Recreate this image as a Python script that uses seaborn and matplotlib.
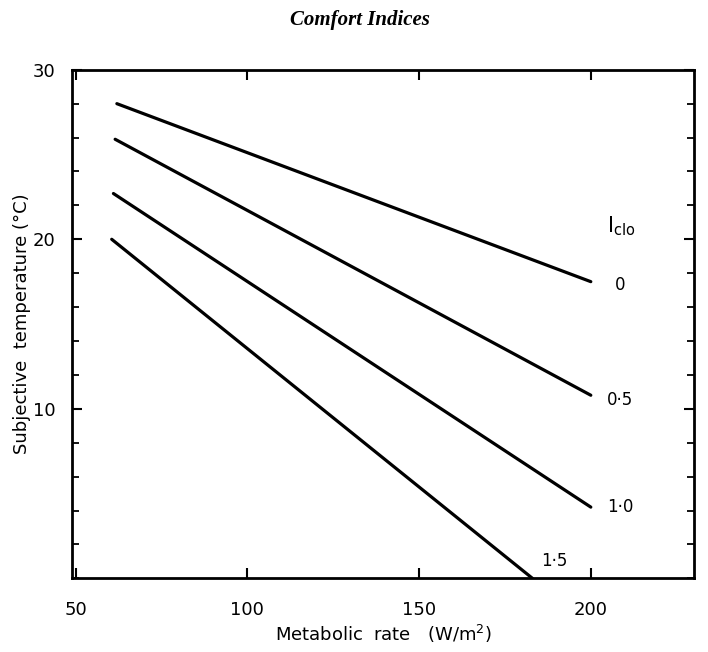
import matplotlib.pyplot as plt
import numpy as np
import seaborn as sns
import pandas as pd
from matplotlib.ticker import MultipleLocator

sns.set_style("ticks")
plt.rcParams["font.family"] = ["DejaVu Sans"]
plt.rcParams["text.color"] = "black"
plt.rcParams["axes.labelcolor"] = "black"
plt.rcParams["xtick.color"] = "black"
plt.rcParams["ytick.color"] = "black"

# Clothing insulation levels and end points of each line
iclo_levels = ["0", "0·5", "1·0", "1·5"]
x_start = [62.0, 61.5, 61.0, 60.5]
x_end = [200.0, 200.0, 200.0, 183.0]
y_start = [28.0, 25.9, 22.7, 20.0]
y_end = [17.5, 10.8, 4.2, 0.0]

rows = []
for lvl, x0, x1, y0, y1 in zip(iclo_levels, x_start, x_end, y_start, y_end):
    rows.append({"Iclo": lvl, "rate": x0, "temp": y0})
    rows.append({"Iclo": lvl, "rate": x1, "temp": y1})
df = pd.DataFrame(rows)

fig = plt.figure(figsize=(7.08, 6.52), dpi=100)
ax = fig.add_axes([0.102, 0.113, 0.878, 0.78])

sns.lineplot(
    data=df,
    x="rate",
    y="temp",
    hue="Iclo",
    palette=["black"] * 4,
    linewidth=2.3,
    legend=False,
    ax=ax,
)

# line labels placed at the right-hand ends
label_pos = {"0": (208.5, 17.3), "0·5": (208.5, 10.5), "1·0": (208.5, 4.2), "1·5": (189.5, 1.0)}
for lvl in iclo_levels:
    lx, ly = label_pos[lvl]
    ax.text(lx, ly, lvl, ha="center", va="center", fontsize=12, color="black")
ax.text(209, 20.75, r"$\mathrm{I}_{\mathsf{clo}}$", ha="center", va="center", fontsize=15,
        family="serif", color="black")

ax.set_xlim(49, 230)
ax.set_ylim(0, 30)
ax.set_xticks([50, 100, 150, 200])
ax.set_yticks([10, 20, 30])
ax.yaxis.set_minor_locator(MultipleLocator(2))
ax.tick_params(axis="both", which="major", direction="in", length=7, width=1.5,
               top=True, right=True, labelsize=13)
ax.tick_params(axis="x", which="major", pad=16)
ax.tick_params(axis="y", which="major", pad=12)
ax.tick_params(axis="y", which="minor", direction="in", length=5, width=1.3,
               right=True)
for s in ax.spines.values():
    s.set_linewidth(2)
    s.set_color("black")

ax.set_xlabel("Metabolic  rate   (W/m$^2$)", fontsize=13, labelpad=3)
ax.set_ylabel("Subjective  temperature (°C)", fontsize=13, labelpad=1)

fig.text(0.508, 0.97, "Comfort Indices", ha="center", va="center", fontsize=15,
         style="italic", fontweight="bold", family="Liberation Serif")

fig.savefig("out.png", dpi=100)
